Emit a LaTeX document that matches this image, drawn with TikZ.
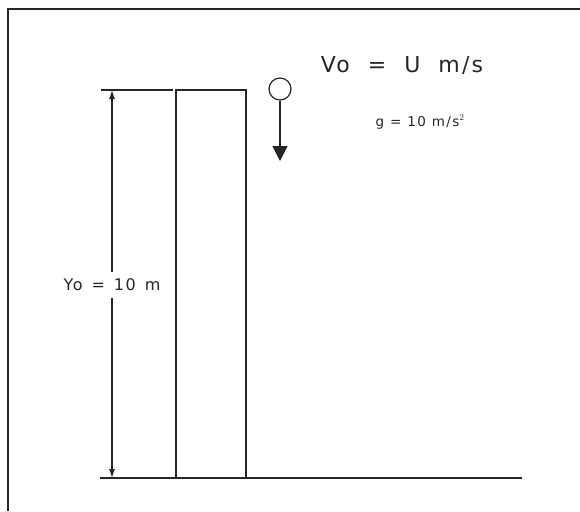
\documentclass[tikz,border=0pt]{standalone}
\usepackage{fontspec}
\newfontfamily\cadfont[LetterSpace=10]{DejaVu Sans}
\usetikzlibrary{arrows.meta,positioning}

\begin{document}
\begin{tikzpicture}[x=1pt,y=-1pt,>=Latex, line width=1.3pt, draw=black!85]
\tikzstyle{cadtext}=[inner sep=0pt,text=black!85]
\tikzstyle{dimline}=[line width=1.1pt,-{Latex[length=9pt,width=6pt]}]
\useasboundingbox (0,0) rectangle (580,511);
% frame (only left and top edges are inside the picture)
\coordinate (framebl) at (8,511);
\coordinate (frametl) at (8,9);
\coordinate (frametr) at (580,9);
\draw[line width=2pt] (framebl) -- (frametl) -- (frametr);
% ground and tower
\coordinate (groundl) at (100,478);
\coordinate (groundr) at (522,478);
\coordinate (towerbl) at (176,478);
\coordinate (towertl) at (176,90);
\coordinate (towertr) at (246,90);
\coordinate (towerbr) at (246,478);
\draw (groundl) -- (groundr);
\draw (towerbl) -- (towertl) -- (towertr) -- (towerbr);
% height dimension
\coordinate (extl) at (101,90);
\coordinate (extr) at (173,90);
\coordinate (dimtop) at (112,90);
\coordinate (dimbot) at (112,478);
\draw[line width=1.1pt] (extl) -- (extr);
\node[cadtext,inner ysep=6pt] (height) at (112,285) {\cadfont\fontsize{16}{16}\selectfont Yo\hspace{9pt}=\hspace{9pt}10\hspace{9pt}m};
\draw[dimline] (height) -- (dimtop);
\draw[dimline] (height) -- (dimbot);
% falling ball
\node[circle,draw,line width=1.2pt,minimum size=22pt,inner sep=0pt] (ball) at (280,89) {};
\coordinate (fallend) at (280,161);
\draw[line width=1.2pt,-{Triangle[length=15pt,width=15pt]}] (ball) -- (fallend);
% data
\node[cadtext] (speed) at (402,66) {\cadfont\fontsize{22}{22}\selectfont Vo\hspace{18pt}=\hspace{18pt}U\hspace{18pt}m/s};
\node[cadtext] (grav) at (420,122) {\cadfont\fontsize{13.5}{13.5}\selectfont g\hspace{6pt}=\hspace{6pt}10\hspace{6pt}m/s$^{2}$};
\end{tikzpicture}
\end{document}
